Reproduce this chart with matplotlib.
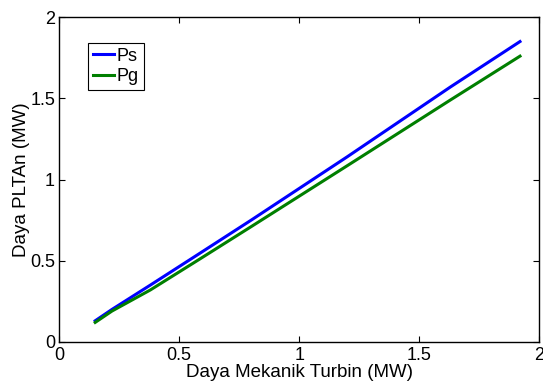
import numpy as np
import matplotlib
matplotlib.use('Agg')
import matplotlib.pyplot as plt

plt.rcParams['font.family'] = ['Liberation Sans', 'DejaVu Sans']

# data
p_mek = [0.15, 0.22, 0.38, 0.58, 0.80, 1.20, 1.63, 1.92]
ps = [0.13, 0.20, 0.35, 0.54, 0.75, 1.14, 1.57, 1.85]
pg = [0.12, 0.19, 0.32, 0.505, 0.71, 1.085, 1.49, 1.76]

fig = plt.figure(figsize=(5.43, 3.82), dpi=100)
ax = fig.add_axes([0.109, 0.105, 0.884, 0.85])

ax.plot(p_mek, ps, color='#0000ff', lw=2.2, label='Ps')
ax.plot(p_mek, pg, color='#007f00', lw=2.2, label='Pg')

ax.set_xlim(0, 2)
ax.set_ylim(0, 2)
ax.set_xticks([0, 0.5, 1, 1.5, 2])
ax.set_xticklabels(['0', '0.5', '1', '1.5', '2'])
ax.set_yticks([0, 0.5, 1, 1.5, 2])
ax.set_yticklabels(['0', '0.5', '1', '1.5', '2'])
ax.tick_params(direction='in', length=4, labelsize=13, top=True, right=True)
ax.tick_params(axis='x', pad=3.5)
ax.tick_params(axis='y', pad=3)
for s in ax.spines.values():
    s.set_linewidth(1.0)

ax.set_xlabel('Daya Mekanik Turbin (MW)', fontsize=13.5, labelpad=0)
ax.set_ylabel('Daya PLTAn (MW)', fontsize=13.5, labelpad=0)

leg = ax.legend(loc='upper left', bbox_to_anchor=(0.06, 0.92), fontsize=13,
                fancybox=False, framealpha=1, edgecolor='black',
                handlelength=1.2, handletextpad=0.15, borderpad=0.25,
                labelspacing=0.2, borderaxespad=0)
leg.get_frame().set_linewidth(0.8)

fig.savefig('out.png', dpi=100)
